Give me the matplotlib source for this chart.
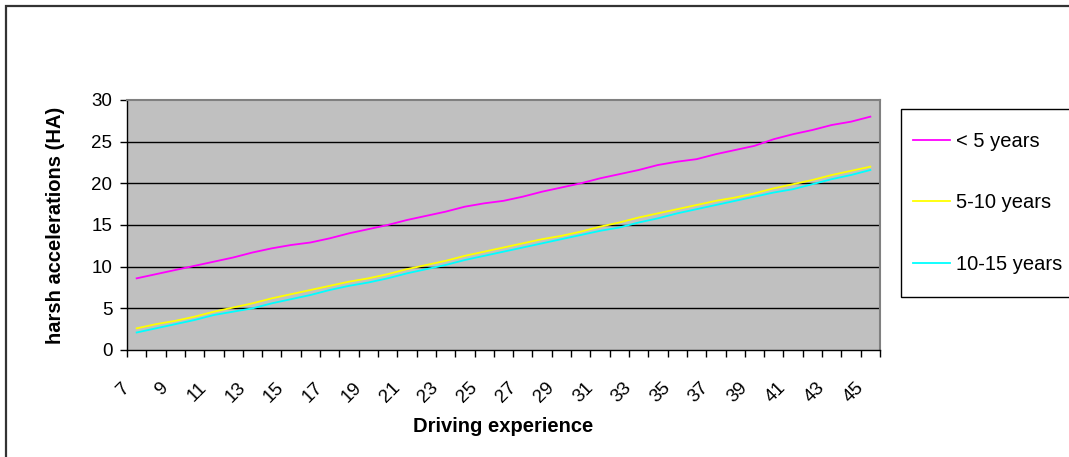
import matplotlib
matplotlib.use('Agg')
import matplotlib.pyplot as plt
import matplotlib.patches as patches
from matplotlib.lines import Line2D
from matplotlib.transforms import ScaledTranslation

plt.rcParams['font.family'] = ['Liberation Sans', 'DejaVu Sans']

# data
experience = list(range(7, 46))
under_5 = [8.6, 9.1, 9.6, 10.1, 10.6, 11.1, 11.7, 12.2, 12.6, 12.9,
           13.4, 14.0, 14.5, 15.0, 15.6, 16.1, 16.6, 17.2, 17.6, 17.9,
           18.4, 19.0, 19.5, 20.0, 20.6, 21.1, 21.6, 22.2, 22.6, 22.9,
           23.5, 24.0, 24.5, 25.3, 25.9, 26.4, 27.0, 27.4, 28.0]
y5_10 = [2.6, 3.1, 3.5, 4.0, 4.6, 5.1, 5.6, 6.2, 6.7, 7.2,
         7.7, 8.2, 8.6, 9.1, 9.7, 10.2, 10.7, 11.3, 11.8, 12.3,
         12.8, 13.3, 13.7, 14.2, 14.8, 15.3, 15.9, 16.4, 16.9, 17.4,
         17.9, 18.3, 18.8, 19.4, 19.9, 20.4, 21.0, 21.5, 22.0]
y10_15 = [2.1, 2.6, 3.1, 3.6, 4.2, 4.6, 5.0, 5.6, 6.1, 6.6,
          7.2, 7.7, 8.1, 8.6, 9.2, 9.7, 10.2, 10.8, 11.3, 11.8,
          12.3, 12.8, 13.3, 13.8, 14.3, 14.7, 15.3, 15.8, 16.4, 16.9,
          17.4, 17.9, 18.4, 18.9, 19.3, 19.9, 20.5, 21.0, 21.6]
series_names = ['< 5 years', '5-10 years', '10-15 years']
series_colors = ['#FF00FF', '#FFFF00', '#00FFFF']

W, H = 1069, 457
fig = plt.figure(figsize=(W / 100, H / 100), dpi=100)

# outer chart border (only left/top visible)
fig.patches.append(patches.Rectangle((6 / W, -0.1), 1.2, 1 - 6 / H + 0.1,
                                     transform=fig.transFigure, fill=False,
                                     edgecolor='#333333', linewidth=1.6))

ax = fig.add_axes([127 / W, 1 - 350 / H, 753 / W, 250 / H])
ax.set_facecolor('#C0C0C0')

idx = list(range(len(experience)))
for vals, name, col in zip([under_5, y5_10, y10_15], series_names, series_colors):
    ax.plot(idx, vals, color=col, linewidth=1.3, label=name)

ax.set_xlim(-0.5, len(experience) - 0.5)
ax.set_ylim(0, 30)

# gridlines
for v in range(5, 30, 5):
    ax.axhline(v, color='black', linewidth=1.0, zorder=0.5)

for s in ['top', 'right']:
    ax.spines[s].set_color('#808080')
    ax.spines[s].set_linewidth(1.5)
for s in ['left', 'bottom']:
    ax.spines[s].set_color('black')
    ax.spines[s].set_linewidth(1.0)

ax.set_yticks(range(0, 31, 5))
ax.tick_params(axis='y', direction='out', length=5, width=1, pad=5.5, labelsize=13.5)

# tick marks between categories, labels every other category
ax.set_xticks([i - 0.5 for i in range(len(experience) + 1)], minor=True)
ax.set_xticks(idx[::2])
ax.set_xticklabels([str(e) for e in experience[::2]], rotation=45,
                   ha='right', va='center', rotation_mode='anchor', fontsize=13.5)
ax.tick_params(axis='x', which='minor', direction='out', length=5, width=1)
ax.tick_params(axis='x', which='major', length=0, pad=25.5)
offset = ScaledTranslation(-0.095, 0, fig.dpi_scale_trans)
for lab in ax.get_xticklabels():
    lab.set_transform(lab.get_transform() + offset)

ax.set_ylabel('harsh accelerations (HA)', fontsize=14.5, fontweight='bold')
ax.yaxis.set_label_coords(-(127 - 65) / 753, 0.5)
ax.set_xlabel('Driving experience', fontsize=14.5, fontweight='bold')
ax.xaxis.set_label_coords(0.5, -(417 - 350) / 250)

# legend box
fig.patches.append(patches.Rectangle((901 / W, 1 - 297 / H), 0.3, 188 / H,
                                     transform=fig.transFigure, facecolor='white',
                                     edgecolor='black', linewidth=1.0))
handles = [Line2D([], [], color=c, linewidth=1.3) for c in series_colors]
fig.legend(handles, series_names, loc='center left',
           bbox_to_anchor=(913 / W, 1 - 203 / H), frameon=False,
           fontsize=14.5, labelspacing=2.1, handlelength=1.85,
           handletextpad=0.3, borderpad=0, borderaxespad=0)

fig.savefig('out.png', dpi=100)
